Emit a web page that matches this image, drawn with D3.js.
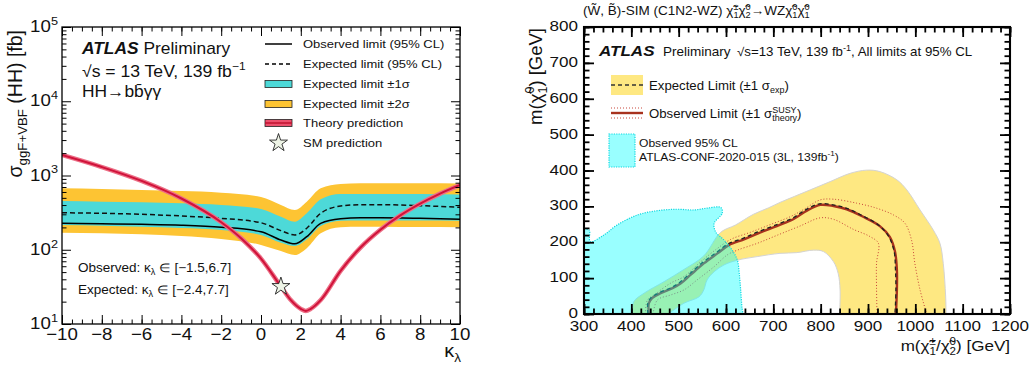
<!DOCTYPE html>
<html>
<head>
<meta charset="utf-8">
<script src="https://cdn.jsdelivr.net/npm/d3@7"></script>
<style>
body { margin: 0; background: #fff; }
svg text { font-family: "Liberation Sans", Arial, Helvetica, sans-serif; fill: #111; }
</style>
</head>
<body>
<svg id="chart" width="1030" height="372"></svg>
<script>
// ---------- left panel: HH -> bbyy kappa_lambda scan ----------
const kappa    = [-10, -8, -6, -4, -2, 0, 1, 1.7, 2.3, 3, 4, 5, 6, 8, 10];
const exp2Up   = [672, 658, 638, 618, 587, 513, 401, 343, 444, 672, 768, 785, 785, 785, 780];
const exp1Up   = [454, 444, 436, 422, 401, 354, 279, 239, 310, 478, 563, 563, 563, 563, 555];
const expLim   = [315, 310, 300, 285, 265, 231, 181, 158, 195, 310, 388, 404, 404, 392, 373];
const obsLim   = [227, 224, 220, 214, 201, 175, 135, 120, 150, 227, 262, 270, 270, 265, 257];
const exp1Dn   = [215, 211, 204, 196, 185, 158, 124, 112, 138, 209, 246, 248, 248, 248, 246];
const exp2Dn   = [170, 167, 162, 153, 140, 116, 96, 85, 105, 167, 201, 204, 204, 202, 201];

const thKappa  = [-10, -8, -6, -4, -2, -1, 0, 1, 1.5, 2, 2.25, 2.5, 3, 4, 5, 6, 7, 8, 9, 10];
const thXsec   = [1890, 1300, 845, 490, 235, 143, 76, 32, 21, 16, 15, 16, 21, 52, 107, 186, 290, 418, 570, 745];
const smPoint  = [1, 32];

const kTicks   = [-10, -8, -6, -4, -2, 0, 2, 4, 6, 8, 10];
const decades  = [1, 2, 3, 4, 5];

// ---------- right panel: (W,B)-SIM C1N2-WZ exclusion ----------
// [m(chi1+-/chi20), m(chi10)] in GeV
const bandOuter = [[402,0],[405,34],[427,58],[469,90],[511,124],[553,162],[589,228],[620,248],[658,278],
  [690,296],[714,311],[745,328],[778,346],[820,369],[862,392],[897,401],[925,397],[961,374],[982,346],
  [1010,290],[1038,234],[1052,197],[1059,141],[1064,50],[1065,0]];
const bandInner = [[840,0],[841,67],[837,113],[827,146],[806,174],[785,178],[749,171],[714,169],[666,160],
  [624,150],[596,137],[575,118],[560,95],[553,67],[543,48],[511,30],[478,0]];
const obsLine = [[437,0],[437,30],[444,44],[462,58],[487,72],[504,85],[525,109],[553,141],[582,169],[606,192],
  [638,208],[668,225],[711,247],[742,264],[771,288],[799,304],[827,301],[855,292],[890,271],[925,245],
  [946,215],[957,174],[961,123],[961,67],[959,0]];
const expLine = [[435,0],[435,31],[442,46],[460,60],[485,74],[502,88],[523,112],[551,144],[580,172],[604,195],
  [636,211],[666,228],[709,250],[740,267],[769,291],[797,307],[826,304],[854,295],[888,274],[922,248],
  [943,218],[955,176],[958,124],[959,67],[957,0]];
const thUpLine = [[430,0],[434,39],[448,53],[483,86],[511,104],[547,146],[582,183],[610,208],[652,228],
  [695,250],[737,272],[765,292],[799,318],[827,320],[876,309],[918,295],[954,276],[978,253],[992,206],
  [999,141],[1010,67],[1024,0]];
const thDnLine = [[446,0],[455,39],[483,53],[511,67],[539,95],[575,132],[603,165],[624,178],[666,197],
  [709,220],[756,245],[799,268],[827,264],[869,236],[904,216],[922,197],[918,141],[918,76],[919,0]];
const obs3L = [[300,236],[311,234],[313,202],[342,220],[370,248],[413,276],[455,288],[497,292],[532,290],
  [560,295],[589,297],[592,281],[575,253],[578,229],[596,206],[613,178],[624,150],[628,113],[631,67],
  [634,16],[636,0]];

const mTicksX = [300, 400, 500, 600, 700, 800, 900, 1000, 1100, 1200];
const mTicksY = [0, 100, 200, 300, 400, 500, 600, 700, 800];

const SX = 1.1;   // the reference text is a little wide
const CHI = 'χ\u0303';
const svg = d3.select('#chart');

// text with sub / superscripts; parts are strings or {b, sup, sub, w, i}
function rich(t, parts, fs) {
  let off = 0, pend = 0;
  const ss = fs * 0.68, up = fs * 0.42, dn = fs * 0.26;
  parts.forEach(p => {
    if (typeof p === 'string') p = {b: p};
    if (p.b !== undefined) {
      const s = t.append('tspan').attr('font-size', fs).attr('dy', -off).text(p.b);
      if (pend) s.attr('dx', pend);
      if (p.w) s.attr('font-weight', p.w);
      if (p.i) s.attr('font-style', 'italic');
      off = 0; pend = 0;
    }
    if (p.sup !== undefined && p.sub !== undefined) {
      const a = t.append('tspan').attr('font-size', ss).attr('dy', -up - off).text(p.sup);
      const wa = a.node().getComputedTextLength();
      const b = t.append('tspan').attr('font-size', ss).attr('dx', -wa).attr('dy', up + dn).text(p.sub);
      const wb = b.node().getComputedTextLength();
      off = dn; pend = Math.max(0, wa - wb);
    } else if (p.sup !== undefined) {
      t.append('tspan').attr('font-size', ss).attr('dy', -up - off).text(p.sup);
      off = -up;
    } else if (p.sub !== undefined) {
      t.append('tspan').attr('font-size', ss).attr('dy', dn - off).text(p.sub);
      off = dn;
    }
  });
  return t;
}

function txt(g, x, y, fs, anchor, parts) {
  const t = g.append('text')
    .attr('transform', `translate(${x},${y}) scale(${SX},1)`)
    .attr('font-size', fs)
    .attr('text-anchor', anchor);
  return rich(t, parts, fs);
}

function vtxt(g, x, y, fs, parts) {
  const t = g.append('text')
    .attr('transform', `translate(${x},${y}) rotate(-90)`)
    .attr('font-size', fs)
    .attr('text-anchor', 'end');
  return rich(t, parts, fs);
}

// inward ticks on all four sides
function frameTicks(g, x, y, xMaj, xMin, yMaj, yMin, lMaj, lMin, sw) {
  const [x0, x1] = x.range(), [y1, y0] = y.range();
  const sets = [
    [d3.axisBottom(x), `translate(0,${y1})`, xMaj, xMin],
    [d3.axisTop(x), `translate(0,${y0})`, xMaj, xMin],
    [d3.axisLeft(y), `translate(${x0},0)`, yMaj, yMin],
    [d3.axisRight(y), `translate(${x1},0)`, yMaj, yMin]
  ];
  sets.forEach(([ax, tr, maj, min]) => {
    [[min, lMin], [maj, lMaj]].forEach(([vals, len]) => {
      g.append('g').attr('transform', tr)
        .call(ax.tickValues(vals).tickSize(-len).tickFormat(''))
        .call(s => s.select('.domain').remove())
        .selectAll('line').attr('stroke-width', sw);
    });
  });
  g.append('rect').attr('x', x0).attr('y', y0).attr('width', x1 - x0).attr('height', y1 - y0)
    .attr('fill', 'none').attr('stroke', '#000').attr('stroke-width', sw + 0.3);
}

// ================= LEFT PANEL =================
const xk = d3.scaleLinear().domain([-10, 10]).range([62, 460]);
const ys = d3.scaleLog().domain([10, 1e5]).range([324, 27]);
const left = svg.append('g');

svg.append('clipPath').attr('id', 'clipL').append('rect')
  .attr('x', 62).attr('y', 27).attr('width', 398).attr('height', 297);
const pl = left.append('g').attr('clip-path', 'url(#clipL)');

const idx = d3.range(kappa.length);
const band = (lo, hi) => d3.area().curve(d3.curveMonotoneX)
  .x(i => xk(kappa[i])).y0(i => ys(lo[i])).y1(i => ys(hi[i]));
const lim = arr => d3.line().curve(d3.curveMonotoneX).x(i => xk(kappa[i])).y(i => ys(arr[i]));

pl.append('path').attr('d', band(exp2Dn, exp2Up)(idx)).attr('fill', '#fdc433');
pl.append('path').attr('d', band(exp1Dn, exp1Up)(idx)).attr('fill', '#4dd9d8');
pl.append('path').attr('d', lim(expLim)(idx)).attr('fill', 'none').attr('stroke', '#111')
  .attr('stroke-width', 1.5).attr('stroke-dasharray', '5,3');
pl.append('path').attr('d', lim(obsLim)(idx)).attr('fill', 'none').attr('stroke', '#000').attr('stroke-width', 1.5);

const thLine = d3.line().curve(d3.curveMonotoneX).x((d, i) => xk(thKappa[i])).y(d => ys(d));
pl.append('path').attr('d', thLine(thXsec)).attr('fill', 'none').attr('stroke', '#ec6f86').attr('stroke-width', 4.5);
pl.append('path').attr('d', thLine(thXsec)).attr('fill', 'none').attr('stroke', '#d0123a').attr('stroke-width', 2);

const star = d3.symbol(d3.symbolStar, 100);
left.append('path').attr('d', star()).attr('transform', `translate(${xk(smPoint[0])},${ys(smPoint[1])})`)
  .attr('fill', '#eef4e6').attr('stroke', '#222').attr('stroke-width', 0.9);

const xMinorK = d3.range(-10, 10.01, 0.5);
const yMajL = decades.map(d => Math.pow(10, d));
const yMinL = [];
decades.slice(0, 4).forEach(d => { for (let m = 2; m <= 9; m++) yMinL.push(m * Math.pow(10, d)); });
frameTicks(left, xk, ys, kTicks, xMinorK, yMajL, yMinL, 9, 4.5, 1);

kTicks.forEach(v => txt(left, xk(v), 340, 17, 'middle', [v < 0 ? '\u2212' + (-v) : String(v)]));
decades.forEach(d => txt(left, 58, ys(Math.pow(10, d)) + 5, 17, 'end', ['10', {sup: String(d)}]));

txt(left, 461, 357, 18, 'end', ['κ', {sub: 'λ'}]);
vtxt(left, 22, 30, 19.5, ['σ', {sub: 'ggF+VBF'}, ' (HH) [fb]']);

txt(left, 82, 54, 15.8, 'start', [{b: 'ATLAS', w: 'bold', i: true}, ' Preliminary']);
txt(left, 82, 77, 16, 'start', ['√s = 13 TeV, 139 fb', {sup: '\u22121'}]);
txt(left, 82, 97, 15.8, 'start', ['HH→bb\u0304γγ']);

txt(left, 78, 272, 12.3, 'start', ['Observed: κ', {sub: 'λ'}, ' ∈ [\u22121.5,6.7]']);
txt(left, 78, 294, 12.3, 'start', ['Expected: κ', {sub: 'λ'}, ' ∈ [\u22122.4,7.7]']);

// left legend
const legL = left.append('g');
const lgY = [44, 64, 84, 104, 123, 143];
const lgText = ['Observed limit (95% CL)', 'Expected limit (95% CL)', 'Expected limit ±1σ',
  'Expected limit ±2σ', 'Theory prediction', 'SM prediction'];
legL.append('line').attr('x1', 265).attr('x2', 292).attr('y1', lgY[0]).attr('y2', lgY[0])
  .attr('stroke', '#000').attr('stroke-width', 1.5);
legL.append('line').attr('x1', 265).attr('x2', 292).attr('y1', lgY[1]).attr('y2', lgY[1])
  .attr('stroke', '#000').attr('stroke-width', 1.5).attr('stroke-dasharray', '4,3');
[['#4dd9d8', lgY[2]], ['#fdc433', lgY[3]], ['#ec4f6c', lgY[4]]].forEach(([c, y]) => {
  legL.append('rect').attr('x', 265).attr('y', y - 3.5).attr('width', 27).attr('height', 7)
    .attr('fill', c).attr('stroke', '#222').attr('stroke-width', 0.8);
});
legL.append('line').attr('x1', 265).attr('x2', 292).attr('y1', lgY[4]).attr('y2', lgY[4])
  .attr('stroke', '#c0102e').attr('stroke-width', 1.5);
legL.append('path').attr('d', star()).attr('transform', `translate(278.5,${lgY[5]})`)
  .attr('fill', '#eef4e6').attr('stroke', '#222').attr('stroke-width', 0.9);
lgText.forEach((s, i) => txt(legL, 303, lgY[i] + 4.2, 11.8, 'start', [s]));

// ================= RIGHT PANEL =================
const xm = d3.scaleLinear().domain([300, 1200]).range([584, 1010]);
const ym = d3.scaleLinear().domain([0, 800]).range([314, 27]);
const right = svg.append('g');

svg.append('clipPath').attr('id', 'clipR').append('rect')
  .attr('x', 584).attr('y', 27).attr('width', 426).attr('height', 287);
const pr = right.append('g').attr('clip-path', 'url(#clipR)');

const cline = d3.line().curve(d3.curveCatmullRom.alpha(0.5)).x(d => xm(d[0])).y(d => ym(d[1]));
const bandPath = cline(bandOuter) + 'L' + cline(bandInner).slice(1) + 'Z';
pr.append('path').attr('d', bandPath).attr('fill', '#fee882').attr('stroke', '#d4d4d4').attr('stroke-width', 1);

[thUpLine, thDnLine].forEach(ln => pr.append('path').attr('d', cline(ln)).attr('fill', 'none')
  .attr('stroke', '#c8463a').attr('stroke-width', 1).attr('stroke-dasharray', '1,2'));
pr.append('path').attr('d', cline(obsLine)).attr('fill', 'none').attr('stroke', '#a8321e').attr('stroke-width', 2.4);
pr.append('path').attr('d', cline(expLine)).attr('fill', 'none').attr('stroke', '#222')
  .attr('stroke-width', 1.3).attr('stroke-dasharray', '4,3');

const cyanPath = cline(obs3L) + `L${xm(300)},${ym(0)}Z`;
pr.append('path').attr('d', cyanPath).attr('fill', '#00ffff').attr('fill-opacity', 0.4);
pr.append('path').attr('d', cline(obs3L)).attr('fill', 'none').attr('stroke', '#10d8e0')
  .attr('stroke-width', 1.2).attr('stroke-dasharray', '1.2,1.2');

frameTicks(right, xm, ym, mTicksX, d3.range(300, 1201, 20), mTicksY, d3.range(0, 801, 20), 10, 5.5, 1.8);

mTicksX.forEach(v => txt(right, xm(v), 331, 15.5, 'middle', [String(v)]));
mTicksY.forEach(v => txt(right, 578, ym(v) + 4, 15.5, 'end', [String(v)]));

txt(right, 1010, 351, 15.5, 'end', ['m(', {b: CHI, sup: '±', sub: '1'}, '/', {b: CHI, sup: '0', sub: '2'}, ') [GeV]']);
vtxt(right, 542, 28, 18.5, ['m(', {b: CHI, sup: '0', sub: '1'}, ') [GeV]']);

txt(right, 583, 15, 12.3, 'start', ['(W\u0303, B\u0303)-SIM (C1N2-WZ) ', {b: CHI, sup: '±', sub: '1'},
  {b: CHI, sup: '0', sub: '2'}, '→WZ', {b: CHI, sup: '0', sub: '1'}, {b: CHI, sup: '0', sub: '1'}]);

txt(right, 599, 56, 15.5, 'start', [{b: 'ATLAS', w: 'bold', i: true}]);
txt(right, 663, 56, 12.3, 'start', ['Preliminary']);
txt(right, 737, 56, 12.1, 'start', ['√s=13 TeV, 139 fb', {sup: '-1'}, ', All limits at 95% CL']);

// right legend
const legR = right.append('g');
legR.append('rect').attr('x', 611).attr('y', 75).attr('width', 32).attr('height', 20).attr('fill', '#fee882');
legR.append('line').attr('x1', 611).attr('x2', 643).attr('y1', 85).attr('y2', 85)
  .attr('stroke', '#333').attr('stroke-width', 1.4).attr('stroke-dasharray', '4,3');
[108, 118].forEach(y => legR.append('line').attr('x1', 611).attr('x2', 643).attr('y1', y).attr('y2', y)
  .attr('stroke', '#c8463a').attr('stroke-width', 1).attr('stroke-dasharray', '1,2'));
legR.append('line').attr('x1', 611).attr('x2', 643).attr('y1', 113).attr('y2', 113)
  .attr('stroke', '#a8321e').attr('stroke-width', 2.4);
legR.append('rect').attr('x', 609).attr('y', 134).attr('width', 26).attr('height', 33)
  .attr('fill', '#00ffff').attr('fill-opacity', 0.4).attr('stroke', '#10d8e0')
  .attr('stroke-width', 1.2).attr('stroke-dasharray', '1.2,1.2');

txt(legR, 649, 90, 12, 'start', ['Expected Limit (±1 σ', {sub: 'exp'}, ')']);
txt(legR, 649, 118, 12, 'start', ['Observed Limit (±1 ', {b: 'σ', sup: 'SUSY', sub: 'theory'}, ')']);
txt(legR, 639, 147, 11, 'start', ['Observed 95% CL']);
txt(legR, 639, 161, 11, 'start', ['ATLAS-CONF-2020-015 (3L, 139fb', {sup: '-1'}, ')']);
</script>
</body>
</html>
